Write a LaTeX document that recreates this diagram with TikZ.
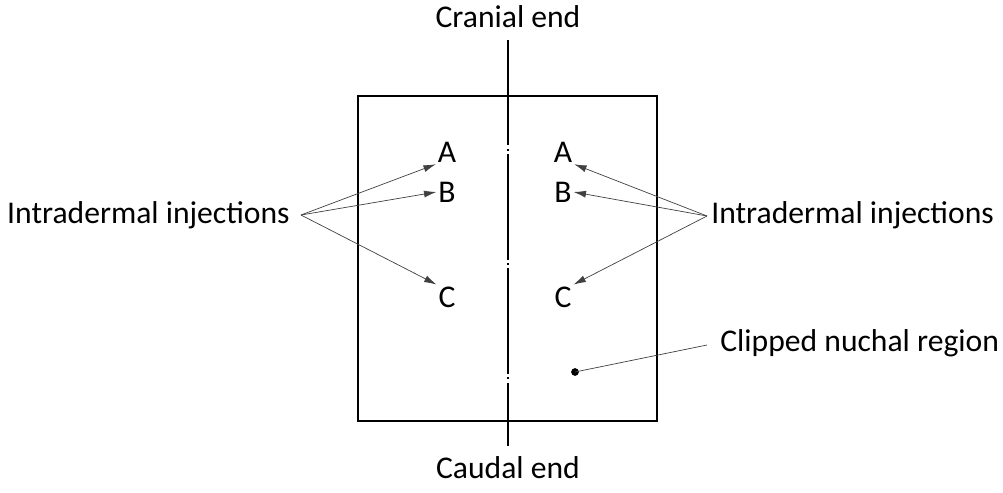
\documentclass[tikz,border=0pt]{standalone}
\usepackage{fontspec}
\setmainfont{Carlito}
\usetikzlibrary{arrows.meta}

\begin{document}
\begin{tikzpicture}[x=0.02cm, y=-0.02cm,
    every node/.style={align=center, font=\fontsize{18}{21}\selectfont},
    letter/.style={inner sep=1pt},
    pointer/.style={-{Latex[length=7pt, width=4pt]}, thin, black!75}]
    \useasboundingbox (0,0) rectangle (1003,493);

    % region and midline
    \draw[line width=1.1pt] (358,96) rectangle (657,421);
    \draw[line width=0.8pt, dash pattern=on 60pt off 2pt on 1pt off 2pt] (508,40) -- (508,446);
    \node (cranial) at (508,17) {Cranial end};
    \node (caudal) at (508,468) {Caudal end};

    % injection sites
    \node[letter] (la) at (447,152) {A};
    \node[letter] (lb) at (447,192) {B};
    \node[letter] (lc) at (447,297) {C};
    \node[letter] (ra) at (563,152) {A};
    \node[letter] (rb) at (563,192) {B};
    \node[letter] (rc) at (563,297) {C};

    \node[anchor=east, inner sep=0pt] (leftlbl) at (290,215) {Intradermal injections};
    \node[anchor=west, inner sep=0pt] (rightlbl) at (711,215) {Intradermal injections};
    \coordinate (lfan) at (301,215);
    \coordinate (rfan) at (707,216);

    \draw[pointer] (lfan) -- (la.south west);
    \draw[pointer] (lfan) -- (lb.west);
    \draw[pointer] (lfan) -- (lc.north west);
    \draw[pointer] (rfan) -- (ra.south east);
    \draw[pointer] (rfan) -- (rb.east);
    \draw[pointer] (rfan) -- (rc.north east);

    % clipped area
    \node[anchor=west, inner sep=0pt] (clipped) at (720,343) {Clipped nuchal region};
    \fill (575,372) circle (2.2pt) coordinate (spot);
    \draw[thin, black!75] (spot) -- (707,345);
\end{tikzpicture}
\end{document}
